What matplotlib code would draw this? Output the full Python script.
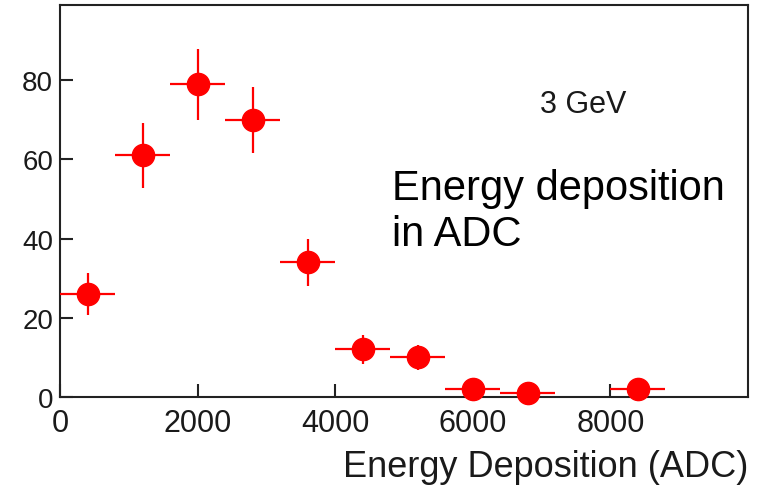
import numpy as np
import matplotlib
matplotlib.use("Agg")
import matplotlib.pyplot as plt

# binned energy deposition spectrum, 3 GeV beam
adc_centers = [400, 1200, 2000, 2800, 3600, 4400, 5200, 6000, 6800, 8400]
bin_half_width = [400, 400, 400, 400, 400, 400, 400, 400, 400, 400]
counts = [26, 61, 79, 70, 34, 12, 10, 2, 1, 2]
count_err = [5.3, 8.3, 9.0, 8.4, 6.0, 3.6, 3.2, 1.4, 1.0, 1.4]

x_ticks = [0, 2000, 4000, 6000, 8000]
y_ticks = [0, 20, 40, 60, 80]

plt.rcParams["font.family"] = ["Liberation Sans", "DejaVu Sans"]

fig = plt.figure(figsize=(7.58, 4.89), dpi=100)
ax = fig.add_axes([0.0792, 0.1861, 0.9076, 0.8016])

ax.errorbar(adc_centers, counts, xerr=bin_half_width, yerr=count_err,
            fmt="o", color="#ff0000", ecolor="#ff0000", elinewidth=1.6,
            markersize=16, capsize=0, clip_on=False, zorder=3)

ax.set_xlim(0, 10000)
ax.set_ylim(0, 99)
ax.set_xticks(x_ticks)
ax.set_yticks(y_ticks)
ax.set_xticklabels([str(v) for v in x_ticks], fontsize=22, color="#1a1a1a")
ax.set_yticklabels([str(v) for v in y_ticks], fontsize=20, color="#1a1a1a")
ax.tick_params(direction="in", length=9.5, width=1.5, color="#222222")
ax.tick_params(axis="x", pad=8)
ax.tick_params(axis="y", pad=5)

for side in ax.spines.values():
    side.set_linewidth(1.5)
    side.set_color("#222222")

ax.set_xlabel("Energy Deposition (ADC)", fontsize=26, loc="right",
              labelpad=8, color="#1a1a1a")

ax.text(6980, 74, "3 GeV", fontsize=22, va="center", ha="left",
        color="#1a1a1a")
ax.text(4830, 47, "Energy deposition\nin ADC", fontsize=30, va="center",
        ha="left", color="black", linespacing=1.2)

fig.savefig("out.png", dpi=100)
plt.close(fig)
